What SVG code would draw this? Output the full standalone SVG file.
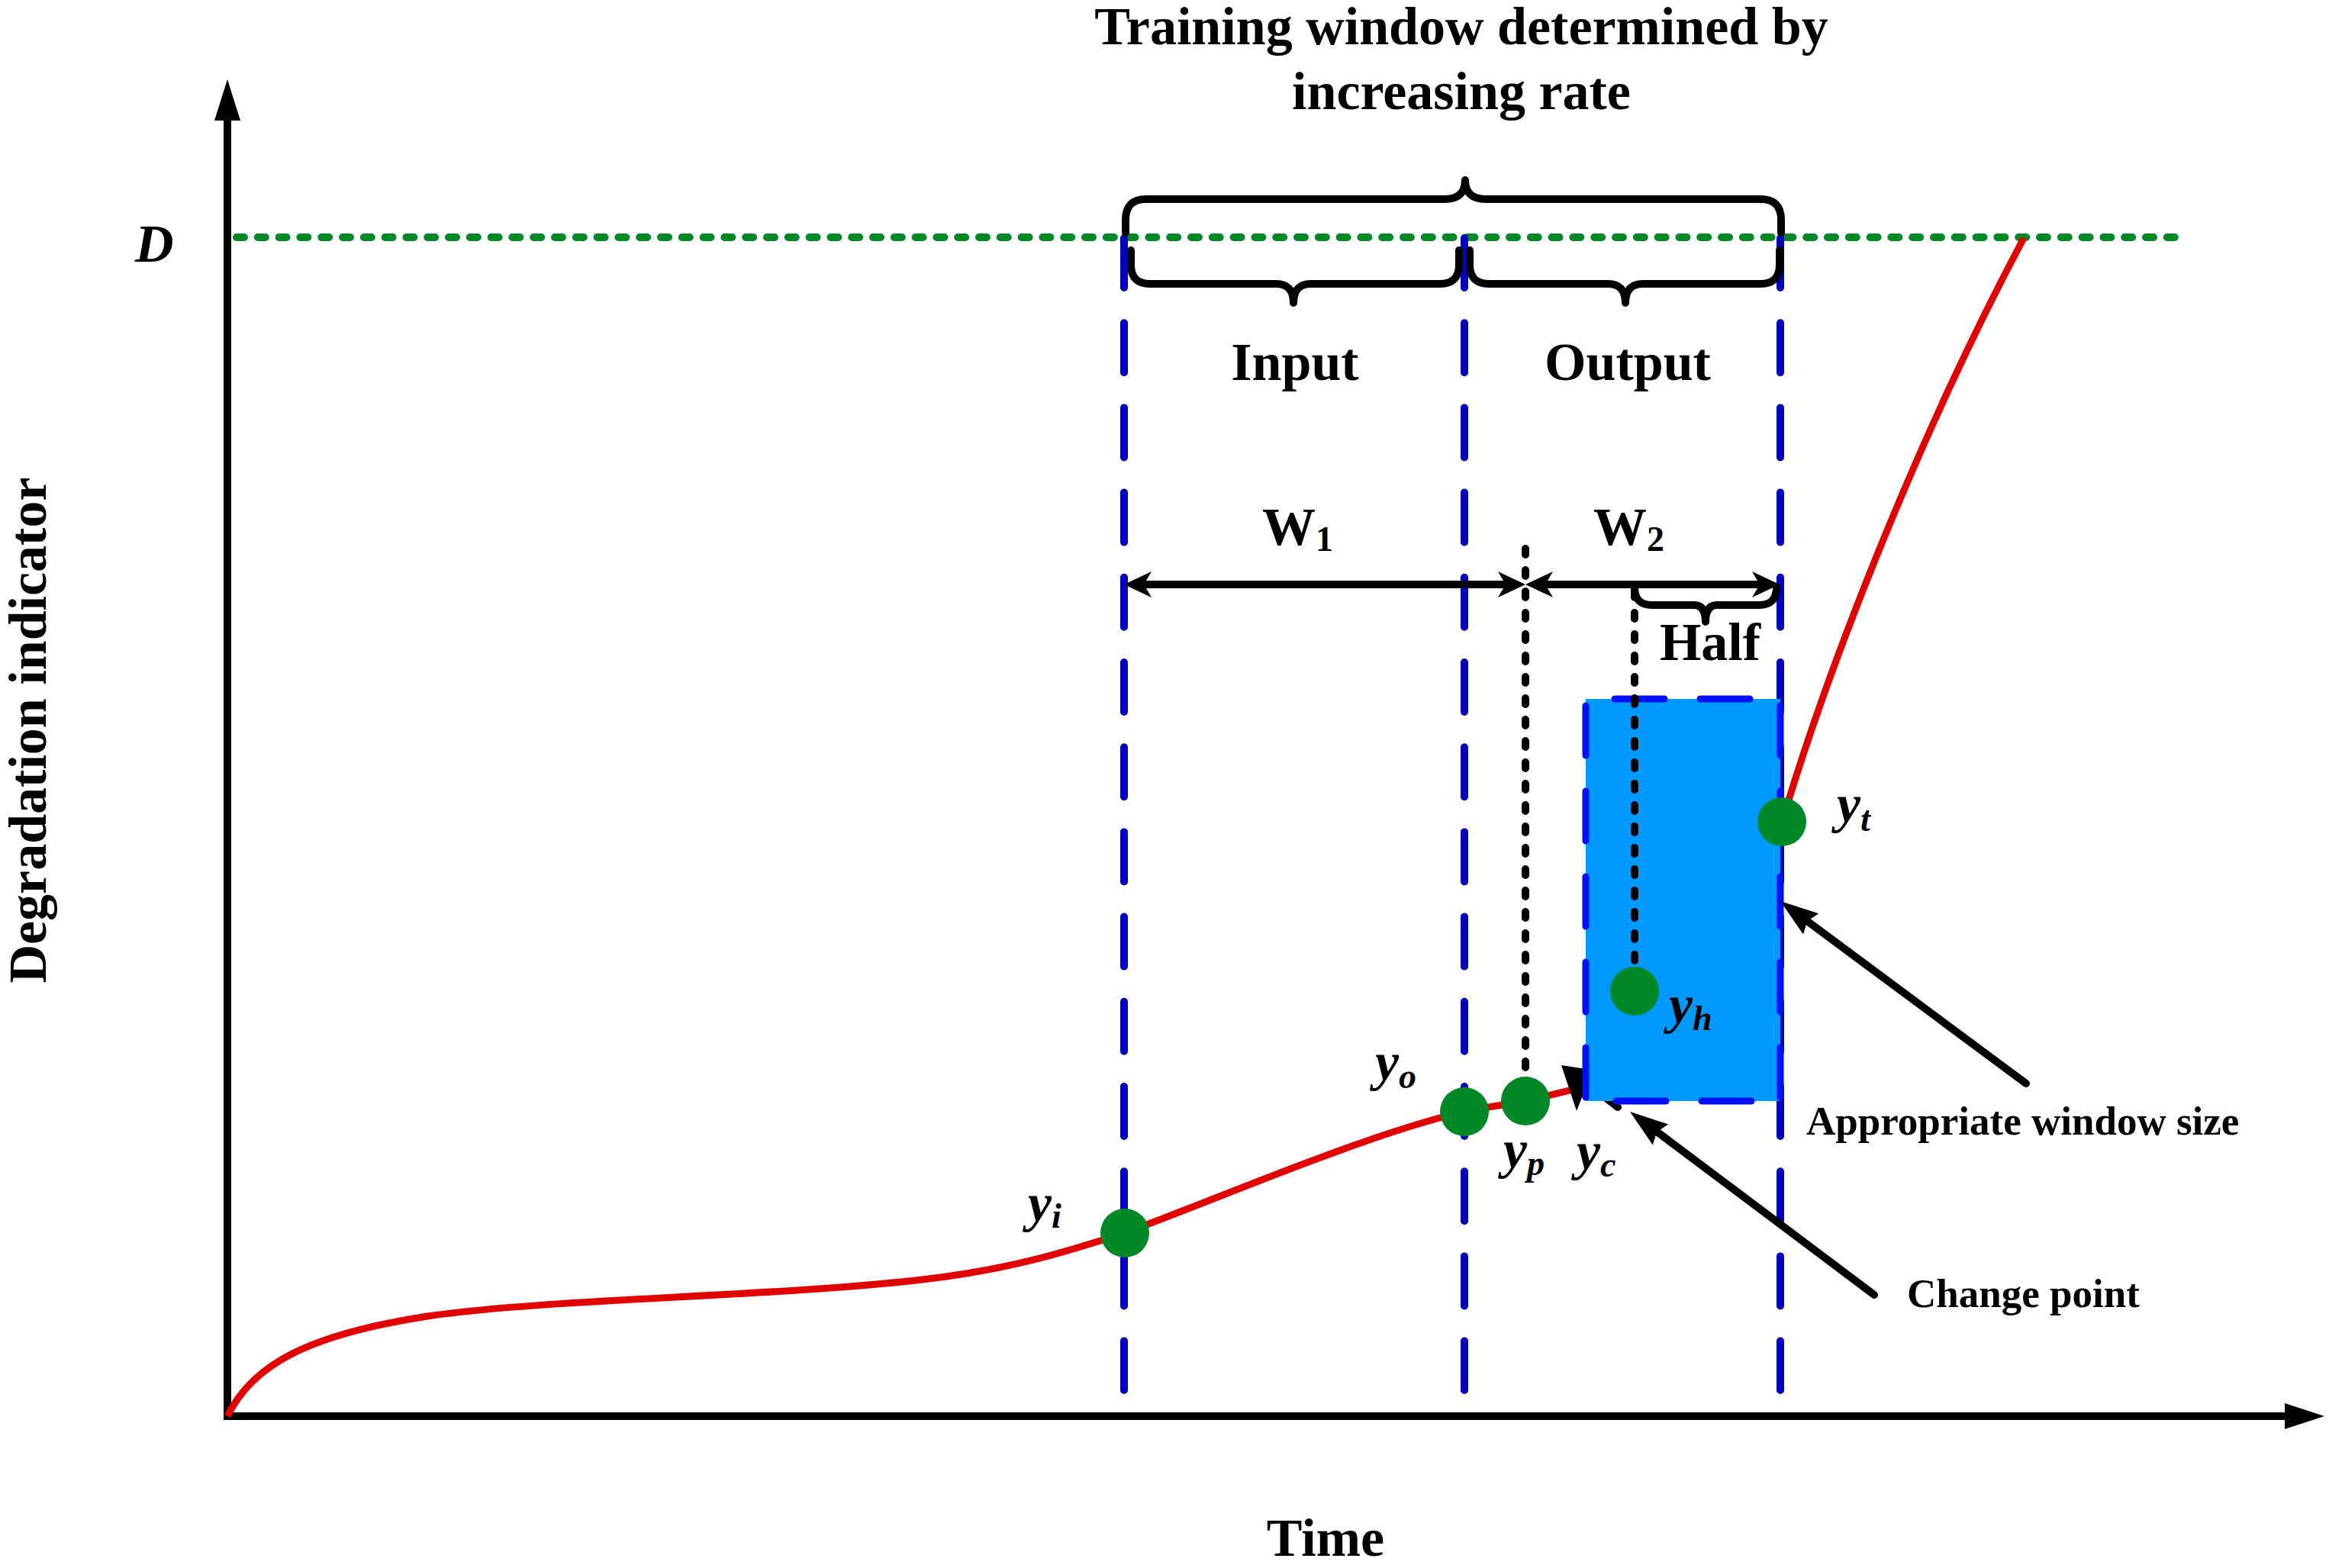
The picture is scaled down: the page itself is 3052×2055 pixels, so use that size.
<svg xmlns="http://www.w3.org/2000/svg" xmlns:xlink="http://www.w3.org/1999/xlink" width="3052" height="2055" viewBox="0 0 3052 2055">
<style>
.t{font-family:"Liberation Serif","Times New Roman",serif;font-weight:bold;font-size:70px;fill:#000}
.s{font-size:53px}
.v{font-style:italic}
.sub{font-size:46px}
.bl{stroke:#0000BF;stroke-width:10;stroke-linecap:round;stroke-dasharray:65 46.2;fill:none}
.rb{stroke:#0010F5;stroke-width:9;stroke-linecap:round;stroke-dasharray:65 47;fill:none}
.dot{stroke:#000;stroke-width:10;stroke-linecap:round;stroke-dasharray:8 20;fill:none}
.br{stroke:#000;stroke-width:10;fill:none;stroke-linecap:round;stroke-linejoin:round}
.pt{fill:#008828}
.ar{stroke:#000;stroke-width:10;fill:none}
</style>
<defs>
<path id="nh" d="M0,0 L-36,-17 L-26,0 L-36,17 Z" fill="#000"/>
<path id="bh" d="M0,0 L-50,-17 L-44,0 L-50,17 Z" fill="#000"/>
</defs>
<rect width="3052" height="2055" fill="#fff"/>

<g id="axes">
<line x1="298" y1="1861" x2="298" y2="150" stroke="#000" stroke-width="10"/>
<polygon points="298,104 281,158 315,158" fill="#000"/>
<line x1="293" y1="1856" x2="2998" y2="1856" stroke="#000" stroke-width="10"/>
<polygon points="3046,1856 2994,1839 2994,1873" fill="#000"/>
</g>

<g id="threshold">
<line x1="310" y1="311" x2="2850" y2="311" stroke="#008828" stroke-width="10" stroke-linecap="round" stroke-dasharray="10 17.8"/>
</g>

<g id="window-lines">
<line class="bl" x1="1473" y1="312" x2="1473" y2="1822"/>
<line class="bl" x1="1919" y1="312" x2="1919" y2="1822"/>
<line class="bl" x1="2333" y1="312" x2="2333" y2="1822"/>
</g>

<g id="curve">
<path d="M298,1856 C330,1790 400,1750 560,1725 C720,1702 1000,1700 1200,1678 C1320,1665 1400,1640 1473,1616 C1600,1570 1780,1490 1921,1456 L1999,1443 L2090,1421" stroke="#E00000" stroke-width="9" fill="none"/>
<path d="M2335,1078 C2400,860 2520,560 2652,312" stroke="#E00000" stroke-width="9" fill="none"/>
</g>

<g id="hidden-arrow">
<path d="M2046,1396 L2098,1404 L2080,1421 L2066,1456 Z" fill="#000"/>
<line x1="2078" y1="1418" x2="2120" y2="1451" stroke="#000" stroke-width="10" stroke-linecap="round"/>
</g>

<g id="window-box">
<rect x="2078" y="916" width="255" height="527" fill="#0099FF"/>
<line class="rb" x1="2078" y1="1438" x2="2078" y2="916"/>
<line class="rb" x1="2116" y1="916" x2="2333" y2="916"/>
<line class="rb" x1="2118" y1="1443" x2="2333" y2="1443"/>
<line class="rb" x1="2333" y1="925" x2="2333" y2="1443"/>
</g>

<g id="braces">
<path class="br" d="M1475,305 L1475,288 Q1475,261 1502,261 L1893,261 Q1920,261 1920,236 Q1920,261 1947,261 L2307,261 Q2334,261 2334,288 L2334,305"/>
<path class="br" d="M1482,328 L1482,347 Q1482,372 1507,372 L1672,372 Q1695,372 1695,397 Q1695,372 1718,372 L1887,372 Q1912,372 1912,347 L1912,328"/>
<path class="br" d="M1926,328 L1926,347 Q1926,372 1951,372 L2107,372 Q2130,372 2130,397 Q2130,372 2153,372 L2307,372 Q2332,372 2332,347 L2332,328"/>
<path class="br" stroke-width="8" d="M2142,770 Q2142,793 2165,793 L2220,793 Q2235,793 2235,815 Q2235,793 2250,793 L2305,793 Q2328,793 2328,770"/>
</g>

<g id="connectors">
<line class="dot" x1="1999" y1="719" x2="1999" y2="1420"/>
<line class="dot" x1="2142" y1="775" x2="2142" y2="1335"/>
<line class="ar" x1="1499" y1="766" x2="1973" y2="766"/>
<line class="ar" x1="2025" y1="766" x2="2306" y2="766"/>
<use xlink:href="#nh" transform="translate(1473,766) rotate(180)"/>
<use xlink:href="#nh" transform="translate(1999,766)"/>
<use xlink:href="#nh" transform="translate(1999,766) rotate(180)"/>
<use xlink:href="#nh" transform="translate(2332,766)"/>
<line x1="2368" y1="1207" x2="2655" y2="1420" stroke="#000" stroke-width="10" stroke-linecap="round"/>
<use xlink:href="#bh" transform="translate(2333,1181) rotate(216.6)"/>
<line x1="2171" y1="1483" x2="2456" y2="1697" stroke="#000" stroke-width="10" stroke-linecap="round"/>
<use xlink:href="#bh" transform="translate(2136,1457) rotate(216.9)"/>
</g>

<g id="points">
<circle class="pt" cx="1474" cy="1616" r="32"/>
<circle class="pt" cx="1919" cy="1457" r="32"/>
<circle class="pt" cx="1999" cy="1443" r="32"/>
<circle class="pt" cx="2142" cy="1299" r="32"/>
<circle class="pt" cx="2335" cy="1077" r="32"/>
</g>

<g id="labels">
<text class="t" x="1915" y="58" text-anchor="middle">Training window determined by</text>
<text class="t" x="1915" y="143" text-anchor="middle">increasing rate</text>
<text class="t" x="1697" y="498" text-anchor="middle">Input</text>
<text class="t" x="2133" y="498" text-anchor="middle">Output</text>
<text class="t" x="1654" y="714">W<tspan class="sub" dy="8">1</tspan></text>
<text class="t" x="2088" y="714">W<tspan class="sub" dy="8">2</tspan></text>
<text class="t" x="2241" y="865" text-anchor="middle">Half</text>
<text class="t s" x="2367" y="1487">Appropriate window size</text>
<text class="t s" x="2499" y="1713">Change point</text>
<text class="t" x="1737" y="2039" text-anchor="middle">Time</text>
<text class="t" transform="translate(60,957) rotate(-90)" text-anchor="middle">Degradation indicator</text>
<text class="t v" x="177" y="343">D</text>
<text class="t v" x="1347" y="1600">y<tspan class="sub" dy="9">i</tspan></text>
<text class="t v" x="1802" y="1415">y<tspan class="sub" dy="11">o</tspan></text>
<text class="t v" x="1970" y="1530">y<tspan class="sub" dy="10">p</tspan></text>
<text class="t v" x="2066" y="1532">y<tspan class="sub" dy="10">c</tspan></text>
<text class="t v" x="2187" y="1340">y<tspan class="sub" dy="10">h</tspan></text>
<text class="t v" x="2407" y="1077">y<tspan class="sub" dy="12">t</tspan></text>
</g>
</svg>
